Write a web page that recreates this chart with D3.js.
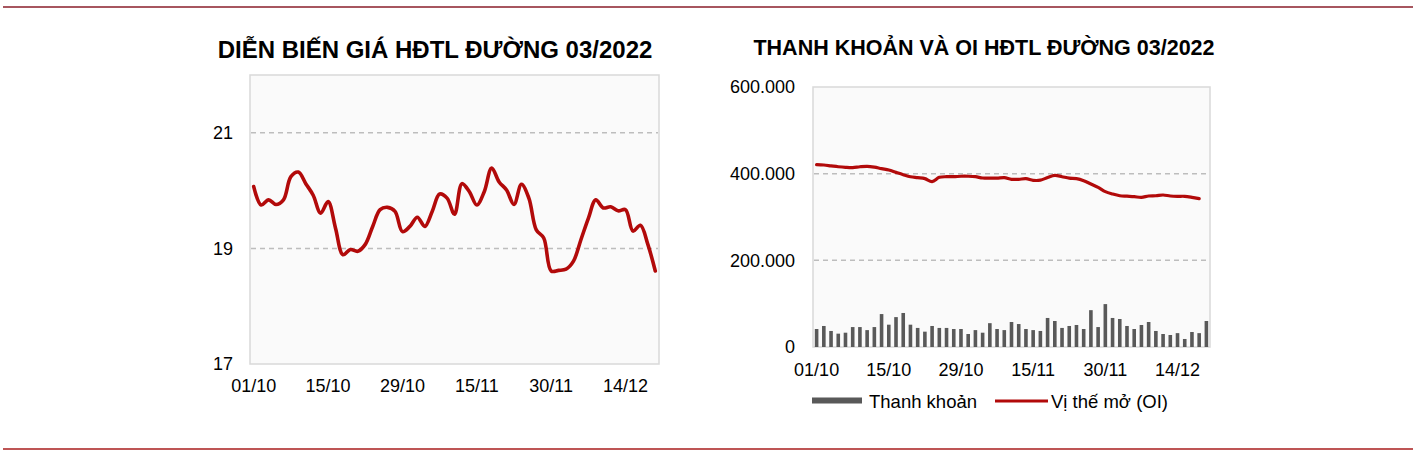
<!DOCTYPE html>
<html>
<head>
<meta charset="utf-8">
<script src="https://cdn.jsdelivr.net/npm/d3@7"></script>
<style>
  html, body { margin: 0; padding: 0; background: #ffffff; }
  svg { display: block; font-family: "Liberation Sans", Arial, sans-serif; }
</style>
</head>
<body>
<svg id="chart" width="1417" height="456"></svg>
<script>
// ---------- DATA ----------
const leftTitle = "DIỄN BIẾN GIÁ HĐTL ĐƯỜNG 03/2022";
const rightTitle = "THANH KHOẢN VÀ OI HĐTL ĐƯỜNG 03/2022";
const tickLabels = ["01/10", "15/10", "29/10", "15/11", "30/11", "14/12"];
const tickIndexes = [0, 10, 20, 30, 40, 50];
const priceTicks = [17, 19, 21];
const volTicks = [0, 200000, 400000, 600000];

const priceValues = [20.07,19.75,19.84,19.76,19.84,20.24,20.32,20.12,19.92,19.61,
  19.81,19.35,18.89,18.98,18.95,19.07,19.38,19.67,19.71,19.64,
  19.29,19.38,19.54,19.38,19.64,19.94,19.87,19.59,20.12,19.98,
  19.75,19.98,20.39,20.15,20.01,19.76,20.11,19.87,19.32,19.18,
  18.61,18.62,18.64,18.78,19.15,19.52,19.84,19.70,19.72,19.65,
  19.67,19.30,19.40,19.07,18.61];

const liquidityValues = [41500,48500,37000,30800,33000,46000,46000,39000,46000,76000,
  51500,69000,78500,51500,44000,35400,48500,44000,44000,41500,
  41500,30000,39000,33000,55000,41500,39000,57700,53000,41500,
  39000,37000,67000,60000,44000,48500,50800,41500,85000,46000,
  99000,67000,64600,48500,41500,50800,57700,37000,30000,27700,
  32000,18500,34600,32000,60000];

const oiValues = [420800,420000,418000,416000,414600,414000,416000,417000,415000,411500,
  408500,403000,397700,393000,390800,388500,381500,391500,393000,393000,
  394000,394000,393000,390000,389600,389600,391000,387000,387000,388500,
  384600,385000,391000,396000,393000,389600,388500,383800,376000,368500,
  358500,353000,349000,348000,347000,345400,348500,349000,350800,348500,
  347700,347700,345400,342300];

const legendLabels = ["Thanh khoản", "Vị thế mở (OI)"];

// ---------- DRAW ----------
const svg = d3.select("#chart");
const RED = "#b20a0a";
const GRID = "#bdbdbd";
const BORDER = "#d9d9d9";
const FILL = "#fafafa";

// rules
svg.append("line").attr("x1", 3).attr("x2", 1413).attr("y1", 7).attr("y2", 7)
  .attr("stroke", "#8a1e2a").attr("stroke-width", 1.3);
svg.append("line").attr("x1", 3).attr("x2", 1413).attr("y1", 449).attr("y2", 449)
  .attr("stroke", "#a81c1c").attr("stroke-width", 1.3);

const idx = d3.range(priceValues.length);

// ===== LEFT CHART =====
const L = { left: 250, right: 659, top: 75, bottom: 364 };
const xL = d3.scaleBand().domain(idx).range([L.left, L.right]).padding(0);
const yL = d3.scaleLinear().domain([17, 22]).range([L.bottom, L.top]);

svg.append("text").attr("x", 435).attr("y", 58).attr("text-anchor", "middle")
  .attr("font-size", 24).attr("font-weight", "bold").attr("fill", "#000").text(leftTitle);

svg.append("rect").attr("x", L.left).attr("y", L.top)
  .attr("width", L.right - L.left).attr("height", L.bottom - L.top)
  .attr("fill", FILL).attr("stroke", BORDER).attr("stroke-width", 1.5);

svg.append("g").selectAll("line").data(priceTicks.filter(t => t > 17)).join("line")
  .attr("x1", L.left + 1).attr("x2", L.right - 1)
  .attr("y1", d => yL(d)).attr("y2", d => yL(d))
  .attr("stroke", GRID).attr("stroke-width", 1.5).attr("stroke-dasharray", "5,4");

const yAxisL = svg.append("g").attr("transform", `translate(${L.left - 17},0)`)
  .call(d3.axisLeft(yL).tickValues(priceTicks).tickFormat(d3.format("d")).tickSize(0).tickPadding(0));
yAxisL.select(".domain").remove();
yAxisL.selectAll("text").attr("font-size", 18).attr("fill", "#000")
  .attr("font-family", "Liberation Sans, Arial, sans-serif");

const xAxisL = svg.append("g").attr("transform", `translate(0,${L.bottom + 14})`)
  .call(d3.axisBottom(xL).tickValues(tickIndexes).tickFormat((d, i) => tickLabels[i]).tickSize(0).tickPadding(0));
xAxisL.select(".domain").remove();
xAxisL.selectAll("text").attr("font-size", 18).attr("fill", "#000").attr("dy", "0.76em")
  .attr("font-family", "Liberation Sans, Arial, sans-serif");

const priceLine = d3.line()
  .x((d, i) => xL(i) + xL.bandwidth() / 2)
  .y(d => yL(d))
  .curve(d3.curveCatmullRom.alpha(0.5));
svg.append("path").datum(priceValues).attr("d", priceLine)
  .attr("fill", "none").attr("stroke", RED).attr("stroke-width", 3.6)
  .attr("stroke-linejoin", "round").attr("stroke-linecap", "round");

// ===== RIGHT CHART =====
const R = { left: 813, right: 1210, top: 87, bottom: 347 };
const xRc = d3.scaleBand().domain(idx).range([R.left, R.right]).padding(0);
const yR = d3.scaleLinear().domain([0, 600000]).range([R.bottom, R.top]);
const loc = d3.formatLocale({ decimal: ",", thousands: ".", grouping: [3], currency: ["", ""] });
const fmt = loc.format(",");

svg.append("text").attr("x", 984).attr("y", 55).attr("text-anchor", "middle")
  .attr("font-size", 21.5).attr("font-weight", "bold").attr("fill", "#000").text(rightTitle);

svg.append("rect").attr("x", R.left).attr("y", R.top)
  .attr("width", R.right - R.left).attr("height", R.bottom - R.top)
  .attr("fill", FILL).attr("stroke", BORDER).attr("stroke-width", 1.5);

svg.append("g").selectAll("line").data([200000, 400000]).join("line")
  .attr("x1", R.left + 1).attr("x2", R.right - 1)
  .attr("y1", d => yR(d)).attr("y2", d => yR(d))
  .attr("stroke", GRID).attr("stroke-width", 1.5).attr("stroke-dasharray", "5,4");

const yAxisR = svg.append("g").attr("transform", `translate(${R.left - 18},0)`)
  .call(d3.axisLeft(yR).tickValues(volTicks).tickFormat(fmt).tickSize(0).tickPadding(0));
yAxisR.select(".domain").remove();
yAxisR.selectAll("text").attr("font-size", 18).attr("fill", "#000")
  .attr("font-family", "Liberation Sans, Arial, sans-serif");

const xAxisR = svg.append("g").attr("transform", `translate(0,${R.bottom + 15})`)
  .call(d3.axisBottom(xRc).tickValues(tickIndexes).tickFormat((d, i) => tickLabels[i]).tickSize(0).tickPadding(0));
xAxisR.select(".domain").remove();
xAxisR.selectAll("text").attr("font-size", 18).attr("fill", "#000").attr("dy", "0.76em")
  .attr("font-family", "Liberation Sans, Arial, sans-serif");

svg.append("g").selectAll("rect").data(liquidityValues).join("rect")
  .attr("x", (d, i) => xRc(i) + xRc.bandwidth() / 2 - 1.8)
  .attr("width", 3.6)
  .attr("y", d => yR(d))
  .attr("height", d => R.bottom - yR(d))
  .attr("fill", "#595959");

const oiLine = d3.line()
  .x((d, i) => xRc(i) + xRc.bandwidth() / 2)
  .y(d => yR(d))
  .curve(d3.curveCatmullRom.alpha(0.5));
svg.append("path").datum(oiValues).attr("d", oiLine)
  .attr("fill", "none").attr("stroke", RED).attr("stroke-width", 3.2)
  .attr("stroke-linejoin", "round").attr("stroke-linecap", "round");

// legend
const lg = svg.append("g");
lg.append("rect").attr("x", 812).attr("y", 397.5).attr("width", 50).attr("height", 6).attr("fill", "#595959");
lg.append("text").attr("x", 869).attr("y", 408).attr("font-size", 18.5).attr("fill", "#000").text(legendLabels[0]);
lg.append("line").attr("x1", 995).attr("x2", 1048).attr("y1", 401).attr("y2", 401)
  .attr("stroke", RED).attr("stroke-width", 3);
lg.append("text").attr("x", 1051).attr("y", 408).attr("font-size", 18.5).attr("fill", "#000").text(legendLabels[1]);
</script>
</body>
</html>
